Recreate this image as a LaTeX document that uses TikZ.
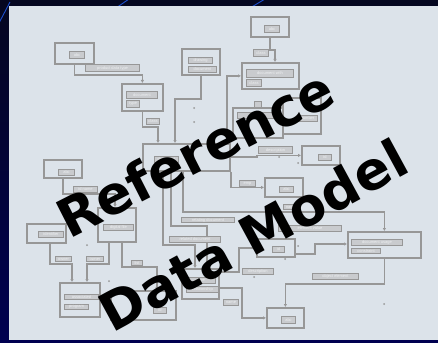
\documentclass[tikz,border=0pt]{standalone}
\usepackage{fontspec}
\newfontfamily\headfont{DejaVu Sans}
\newfontfamily\tagfont{Liberation Sans}
\usetikzlibrary{arrows.meta}
\definecolor{slidetop}{HTML}{050720}
\definecolor{slidebottom}{HTML}{000050}
\definecolor{sweep}{HTML}{1C4FCF}
\definecolor{panel}{HTML}{DCE3EA}
\definecolor{ink}{HTML}{979797}
\definecolor{tagfill}{HTML}{C9CBCE}
\definecolor{tagtext}{HTML}{EEF0F2}
\tikzset{
  ent/.style={draw=ink, line width=1.8pt, fill=panel, inner sep=0pt, anchor=north west},
  tag/.style={draw=ink, line width=1pt, fill=tagfill, inner sep=0pt, anchor=north west,
    font=\tagfont\fontsize{4}{4}\selectfont, text=tagtext},
  wire/.style={draw=ink, line width=1.8pt},
  tipped/.style={-{Latex[length=3pt,width=3.5pt]}},
  dot/.style={circle, fill=ink, inner sep=0pt, minimum size=2pt},
  headline/.style={font=\headfont\bfseries\fontsize{53}{60}\selectfont, text=black, inner sep=0pt},
}
\begin{document}
\begin{tikzpicture}[x=1pt,y=-1pt]
\useasboundingbox (0,0) rectangle (438,342);
% slide background and sweeping strokes
\shade[top color=slidetop, bottom color=slidebottom] (0,0) rectangle (438,342);
\draw[sweep, line width=0.9pt] (-1,23) -- (10,2);
\draw[sweep, line width=0.9pt] (116,8) -- (129,-1);
\draw[sweep, line width=0.9pt] (250,8) -- (265,-1);
% light panel
\fill[panel] (9,6) rectangle (438,340);

% entities
\node[ent, minimum width=39pt, minimum height=21pt] (eA) at (54,42) {};
\node[tag, minimum width=15pt, minimum height=7pt] (tA) at (69,51) {abc};
\node[ent, minimum width=41pt, minimum height=27pt] (eB) at (121,83) {};
\node[tag, minimum width=31pt, minimum height=7pt] (tB1) at (126,91) {document};
\node[tag, minimum width=13pt, minimum height=7pt] (tB2) at (126,100) {type};
\node[ent, minimum width=38pt, minimum height=26pt] (eC) at (181,48) {};
\node[tag, minimum width=24pt, minimum height=6pt] (tC1) at (188,57) {drawing};
\node[tag, minimum width=28pt, minimum height=6pt] (tC2) at (188,66) {document};
\node[ent, minimum width=38pt, minimum height=20pt] (eD) at (250,16) {};
\node[tag, minimum width=15pt, minimum height=7pt] (tD) at (264,25) {abc};
\node[ent, minimum width=57pt, minimum height=26pt] (eE) at (241,62) {};
\node[tag, minimum width=47pt, minimum height=8pt] (tE1) at (246,69) {document with};
\node[tag, minimum width=15pt, minimum height=7pt] (tE2) at (246,79) {class};
\node[ent, minimum width=50pt, minimum height=30pt] (eS) at (232,107) {};
\node[tag, minimum width=40pt, minimum height=6pt] (tS) at (237,112) {name};
\node[tag, minimum width=7pt, minimum height=6pt] (tSq) at (254,101) {};
\node[ent, minimum width=38pt, minimum height=36pt] (eR) at (282,97) {};
\node[tag, minimum width=20pt, minimum height=6pt] (tR) at (297,115) {number};
\node[ent, minimum width=87pt, minimum height=27pt] (eT) at (142,143) {};
\node[tag, minimum width=24pt, minimum height=6pt] (tT) at (154,156) {document};
\node[ent, minimum width=38pt, minimum height=18pt] (eF) at (43,159) {};
\node[tag, minimum width=16pt, minimum height=6pt] (tF) at (58,169) {abc};
\node[ent, minimum width=39pt, minimum height=19pt] (eL) at (26,223) {};
\node[tag, minimum width=25pt, minimum height=6pt] (tL) at (38,231) {identifier};
\node[ent, minimum width=38pt, minimum height=34pt] (eM) at (97,207) {};
\node[tag, minimum width=30pt, minimum height=6pt] (tM) at (103,224) {digital file};
\node[ent, minimum width=40pt, minimum height=34pt] (eN) at (59,282) {};
\node[tag, minimum width=34pt, minimum height=5pt] (tN1) at (64,294) {associated};
\node[tag, minimum width=24pt, minimum height=5pt] (tN2) at (64,304) {program};
\node[ent, minimum width=65pt, minimum height=29pt] (eO) at (110,290) {};
\node[tag, minimum width=13pt, minimum height=6pt] (tO) at (153,307) {id};
\node[ent, minimum width=37pt, minimum height=30pt] (eP) at (181,268) {};
\node[tag, minimum width=29pt, minimum height=6pt] (tP1) at (186,277) {type};
\node[tag, minimum width=32pt, minimum height=6pt] (tP2) at (186,286) {relationship};
\node[ent, minimum width=38pt, minimum height=19pt] (eG) at (264,177) {};
\node[tag, minimum width=14pt, minimum height=6pt] (tG) at (279,186) {abc};
\node[ent, minimum width=38pt, minimum height=19pt] (eH) at (301,145) {};
\node[tag, minimum width=13pt, minimum height=6pt] (tH) at (318,154) {id};
\node[ent, minimum width=38pt, minimum height=18pt] (eJ) at (256,238) {};
\node[tag, minimum width=12pt, minimum height=6pt] (tJ) at (272,246) {id};
\node[ent, minimum width=73pt, minimum height=26pt] (eI) at (347,231) {};
\node[tag, minimum width=51pt, minimum height=6pt] (tI1) at (351,239) {document usage};
\node[tag, minimum width=29pt, minimum height=5pt] (tI2) at (351,248) {constraint};
\node[ent, minimum width=37pt, minimum height=20pt] (eK) at (266,307) {};
\node[tag, minimum width=14pt, minimum height=7pt] (tK) at (281,316) {abc};

% relationships
\draw[wire, tipped] (eA.south) -- ++(0,10) -| (eB.north);
\draw[wire, tipped] (eB.south) -- ++(0,15) -| ([xshift=16pt]eT.north west);
\draw[wire, tipped] (eC.south) -- ++(0,23) -| ([xshift=33pt]eT.north west);
\draw[wire, tipped] ([xshift=85pt]eT.north west) |- (eE.west);
\draw[wire, tipped] (eD.south) -- ++(0,12) -| ([xshift=34pt]eE.north west);
\draw[wire, tipped] (eF.south) -- ++(0,15) -| ([xshift=18pt]eM.north west);
\draw[wire, tipped] ([xshift=24pt]eL.south west) -- ++(0,20) -| ([xshift=13pt]eN.north west);
\draw[wire, tipped] ([xshift=12pt]eM.south west) -- ++(0,21) -| ([xshift=28pt]eN.north west);
\draw[wire, tipped] ([xshift=25pt]eM.south west) -- ++(0,24) -| ([xshift=47pt]eO.north west);
\draw[wire, tipped] ([xshift=21pt]eT.south west) -- ++(0,73) -| ([xshift=14pt]eP.north west);
\draw[wire, tipped] ([xshift=29pt]eT.south west) -- ++(0,54) -| ([xshift=26pt]eP.north west);
\draw[wire, tipped] ([xshift=41pt]eT.south west) -- ++(0,40) -| (eI.north);
\draw[wire, tipped] (eT.south east) |- (eG.west);
\draw[wire, tipped] ([yshift=-14pt]eT.north east) -- ++(26,0) |- (eH.west);
\draw[wire, tipped] ([yshift=4pt]eJ.south east) -- ++(19,0) |- ([yshift=-13pt]eI.north west);
\draw[wire, tipped] (eI.south) -- ++(0,25) -| (eK.north);
\draw[wire, tipped] ([yshift=-20pt]eP.north east) -- ++(22,0) |- (eK.west);
\draw[wire, tipped] ([yshift=-4pt]eP.north east) -- ++(19,0) |- (eJ.west);

% role names beside the relationships
\node[tag, minimum width=54pt, minimum height=7pt] (rPDT) at (85,64) {product data type};
\node[tag, minimum width=13pt, minimum height=6pt] (rCl1) at (146,118) {class};
\node[tag, minimum width=15pt, minimum height=7pt] (rCl2) at (253,49) {class};
\node[tag, minimum width=24pt, minimum height=6pt] (rId) at (73,186) {id name};
\node[tag, minimum width=16pt, minimum height=5pt] (rOw1) at (55,256) {owner};
\node[tag, minimum width=17pt, minimum height=5pt] (rOw2) at (86,256) {owner};
\node[tag, minimum width=11pt, minimum height=5pt] (rList) at (131,260) {list};
\node[tag, minimum width=51pt, minimum height=6pt] (rRel) at (169,236) {related document};
\node[tag, minimum width=53pt, minimum height=5pt] (rRing) at (181,217) {relating document};
\node[tag, minimum width=34pt, minimum height=7pt] (rDesc1) at (258,146) {description};
\node[tag, minimum width=16pt, minimum height=6pt] (rEmp) at (239,180) {emp};
\node[tag, minimum width=15pt, minimum height=5pt] (rName1) at (283,204) {name};
\node[tag, minimum width=63pt, minimum height=6pt] (rElem) at (278,225) {element value};
\node[tag, minimum width=46pt, minimum height=6pt] (rObj) at (312,273) {object element};
\node[tag, minimum width=31pt, minimum height=6pt] (rDesc2) at (242,268) {description};
\node[tag, minimum width=15pt, minimum height=6pt] (rName2) at (223,299) {name};

% stray markers
\foreach \p/\n in {(194,108)/d1,(194,122)/d2,(87,245)/d3,(109,281)/d4,(384,304)/d5,
                   (279,157)/d6,(298,163)/d7,(285,259)/d8,(254,277)/d9,(298,246)/d10}
  \node[dot] (\n) at \p {};

% headline
\node[headline, rotate=27] (word1) at (195,153) {Reference};
\node[headline, rotate=28.5] (word2) at (253,235) {Data Model};
\end{tikzpicture}
\end{document}
